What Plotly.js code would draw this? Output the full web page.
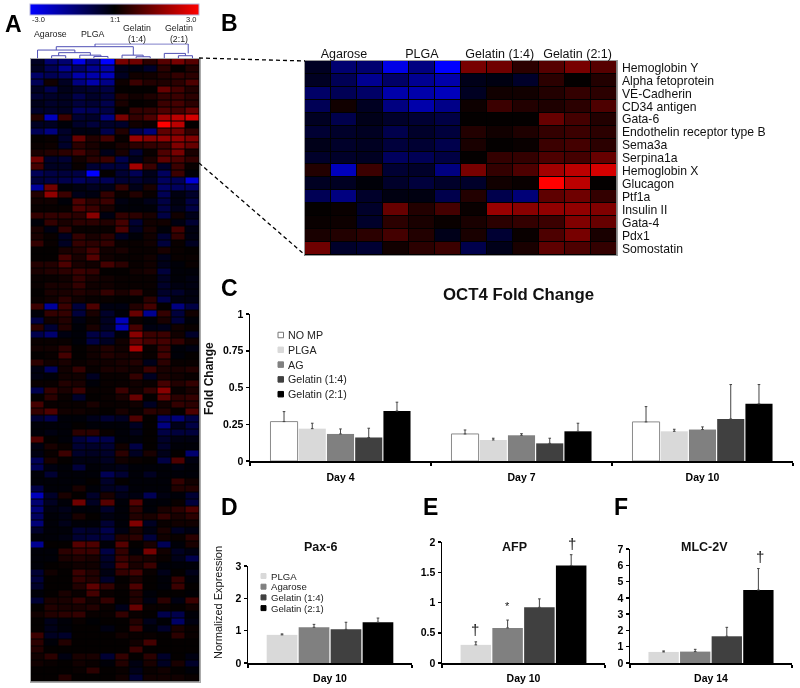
<!DOCTYPE html>
<html><head><meta charset="utf-8">
<script src="https://cdn.plot.ly/plotly-3.0.1.min.js"></script>
<style>html,body{margin:0;padding:0;background:#fff}#c{width:800px;height:688px}.main-svg{will-change:transform}</style>
</head><body><div id="c"></div>
<script>
var genes=['Hemoglobin Y','Alpha fetoprotein','VE-Cadherin','CD34 antigen','Gata-6','Endothelin receptor type B','Sema3a','Serpina1a','Hemoglobin X','Glucagon','Ptf1a','Insulin II','Gata-4','Pdx1','Somostatin'];
var groupsB=['Agarose','PLGA','Gelatin (1:4)','Gelatin (2:1)'];
var groupsA=['Agarose','PLGA','Gelatin<br>(1:4)','Gelatin<br>(2:1)'];
// zoomed region: shared by panels A and B
var heatB=[
[-.4,-1.3,-1.3,-2.7,-1.5,-3,1.4,1.3,.5,1,1.4,1],
[-.4,-1,-1.7,-1.2,-1.7,-2,-.3,-.2,-.5,.5,.05,.4],
[-1.2,-1,-1.2,-2,-2,-2.2,-.4,.2,.2,.4,.6,.5],
[-1,.2,-.4,-1.5,-2,-1.6,.15,.7,.4,.35,.5,.9],
[-.4,-.9,-.3,-.5,-.6,-.8,.05,.05,.05,1.2,.8,.4],
[-.6,-.5,-.4,-.9,-.5,-.7,.4,.2,.35,.6,.7,.5],
[-.3,-.5,-.4,-.7,-.6,-.9,.3,.05,.1,.7,.8,.5],
[-.5,-.5,-.4,-1.1,-1,-.8,.05,.6,.6,.9,.8,1.2],
[.4,-2.2,.7,-.6,-.5,-1.5,1.4,.6,.9,1.9,2.2,2.5],
[-.4,-.4,-.1,-.5,-.7,-.5,-.5,.2,.1,3,2.2,.05],
[-1,-1.5,-.5,-.2,-.2,-.9,.4,-.9,-1.4,1.1,1.3,.6],
[.05,.1,-.5,1.2,.4,.8,.1,1.8,1.6,1.7,1.7,1.5],
[.1,.15,-.5,.5,.3,.1,.3,.5,.6,.7,1.5,1.2],
[.3,.4,.5,.8,.4,-.3,.3,-.6,.1,.9,1.4,.3],
[1.3,-.5,-.6,.2,.5,.7,-.9,-.3,.3,1.1,.9,.6]];
// remaining rows of panel A
var heatRest=[
[.8,-.4,-.4,.1,-.6,-.7,-.7,1.9,.7,-.5,.7,.1],
[-1,-.8,-.7,-.8,-3,.05,-.6,-1,-.3,-1.1,.7,-.1],
[-.7,-.8,-.9,-1.1,-.9,-1,-.6,-.6,-.4,-1.1,-1,-2.5],
[-1.8,1.3,-.1,-.2,-.4,-.3,.6,-.3,.3,-1.2,-1.1,-1.2],
[.4,1.7,.7,-.3,-.2,.6,.1,.4,.1,-1,-.2,-.5],
[.2,.2,-.1,.9,.5,.7,-.2,-.1,-.3,-.8,-.2,-.8],
[.1,.1,.1,.9,.7,.3,-.1,-.1,-.1,-.8,-.3,-.8],
[.6,.6,.6,.5,1.6,-.2,.6,.5,.3,-.8,.2,-.3],
[-.1,.6,.3,.5,.5,.4,.8,-.6,.2,.2,-.2,-.6],
[.3,-.2,.6,.1,.1,.1,.9,-.4,.3,-.1,.8,-.2],
[.3,.1,-.4,.6,.3,.5,-.4,-.1,.2,-.6,.6,-.2],
[.6,.1,-.4,.6,.5,.6,.1,.1,.2,-.7,.1,-.4],
[.05,.05,.3,.4,.8,.2,.3,.1,.1,.3,.1,.05],
[.05,.05,.8,.3,1,.2,.1,.1,.2,-.3,.1,.1],
[.4,.4,.9,.3,.2,.8,.5,.1,.2,-.3,-.1,.1],
[.3,.4,.5,.7,.6,.05,.05,.2,.3,-.7,-.1,-.1],
[.1,.1,.2,.6,.3,.2,.1,.1,.1,-.4,-.1,-.2],
[.1,.3,.3,.6,.2,.2,.1,.1,.1,-.5,-.2,-.2],
[.05,.3,.3,.4,.3,.6,.3,.6,.1,-.5,-.5,-.2],
[.1,.2,.5,.2,.1,.1,.05,.05,.5,-.9,-.2,-.2],
[.7,-1.8,.7,-.7,.9,-.2,-.2,.4,.8,.05,-1.5,-.8],
[-.1,.6,.6,-.7,.3,-.5,-.1,1.2,-1.7,.6,-.7,.2],
[-.8,.2,.4,-.2,.1,-.4,-2.2,.1,-.1,.3,-.7,-.1],
[.5,-.6,.4,-.1,.3,-.4,-2.2,.8,-.2,-.3,.2,.1],
[-.9,-1.3,-.2,-.1,-.8,-.8,-.1,1.6,.7,.7,.2,-.5],
[.1,.1,.1,-.1,-.8,-.4,.2,1.1,.8,.8,.6,.2],
[.2,.2,.5,.05,.2,.4,.2,2,.1,.7,-.1,-.2],
[.05,.1,.8,.05,.2,.4,.3,.3,.1,.8,-.1,.05],
[.5,.2,.3,.1,.2,.2,.3,.4,-.3,.5,.1,.1],
[-.2,-1.1,.2,.6,.1,.3,.3,.2,.7,.3,.3,.4],
[-.2,-.1,.2,.2,-.4,.1,.1,.6,-.4,.3,.2,.1],
[.1,.1,.4,.3,-.1,.1,.1,.2,.1,.8,.4,.6],
[-.9,.6,.3,.7,.1,.1,.7,.2,.6,1.6,.1,.3],
[.05,.5,.1,-.5,.05,.1,.3,1.2,.05,1.1,.5,.6],
[.8,.1,.1,.1,.3,.1,.1,.2,-.4,.2,.6,.5],
[.6,.9,.2,.2,.1,.05,.3,.1,.5,.4,.05,.9],
[-.6,-.9,-.1,-.1,-.3,-.6,-.4,.9,.05,-1.2,-1.4,-.8],
[-.1,-.1,-.1,.05,-.1,-.1,-.1,-.4,.05,-1.5,-.3,-.8],
[-.1,-.2,-.1,.5,.5,.1,-.1,-.3,.05,-.8,-.7,-.7],
[.9,.05,-.1,-.7,-1,-.9,-.1,-.1,.05,-.5,-.2,-.2],
[-.2,.3,.1,-.6,-.5,-.6,.2,-.8,.05,-.5,-.1,-.1],
[-.2,.1,.7,-.5,-.4,-.5,.5,-.4,.3,-.3,.05,-1.3],
[-1,.3,.05,-.2,-.2,-.4,.2,.1,.05,-.8,.9,-.2],
[-1,-.2,-.1,-.7,-.1,-.2,-.3,-.1,-.1,-.1,-.2,-.1],
[-.1,-.6,-.1,-.1,-.1,-1,-.6,-.1,-.4,-.1,-.1,-.1],
[-.1,-.1,-.1,-.1,.05,-.5,.05,-.1,-.1,-.1,.6,.2],
[-.8,-.1,-.1,.3,-.1,-.4,-.5,-.1,-.1,-.1,.4,.4],
[-2.2,-.5,.3,.05,-.5,.3,-.3,-.2,-1,-.2,-.1,-.6],
[-1.3,-.4,-.1,1.3,-.4,1,-.1,1,-.1,-.1,.1,-.7],
[-1.4,-.2,-.3,-.1,-.1,-.5,-.1,.5,-.1,.3,.5,.9],
[-1.1,-.1,-.2,.3,.05,-.2,-.1,.4,.3,.6,.3,.5],
[-1.4,-.1,-.3,-.1,-.1,-.6,-.1,1.5,-.4,.1,.2,.2],
[-.5,-.1,-.1,-.6,-.5,-.9,-.2,.3,-.2,.3,-.4,-.2],
[-.1,-.1,-.2,-.6,-.7,-.7,.4,.5,-.7,.2,.1,.5],
[-1.7,.05,.05,1,.9,-.1,1,.05,.3,-1,-.1,.3],
[-.1,-.1,.5,.7,.7,-.8,.6,-.1,1.4,.2,-.4,-.2],
[-.1,-.1,.3,.4,.3,-.5,.7,.4,.3,.1,-.3,-.9],
[-.1,.05,.1,.2,.2,-.4,.9,.3,.7,-.1,-.1,-.1],
[-.6,.2,.05,.7,.4,-.2,.6,.8,.1,-.3,.05,-.3],
[-.7,.05,.05,.6,.4,-.5,.05,.3,.05,-.1,.6,-.1],
[-.5,.05,.05,.4,1.1,.6,.1,.9,.05,-.1,.7,.05],
[-.1,.05,.3,.1,.8,.1,.05,.4,-.1,.05,.05,-.05],
[-.6,.3,.3,.6,.2,.6,.05,.4,-.2,.5,-.2,.7],
[.05,.4,.3,.3,.4,.1,-.3,1.2,.1,.1,.05,.2],
[.2,.4,.5,.6,.1,.1,.6,.1,.05,-.9,-.9,-.1],
[.05,-.3,-.1,.1,-.05,.05,.05,.4,-.3,-.05,-1.2,-.2],
[.05,-.3,-.1,.05,.05,-.2,.05,.7,-.1,-.5,.3,.1],
[.7,-.4,-.5,.05,.05,.05,.2,.1,.1,.05,.5,.1],
[.5,-.1,.4,.05,.05,.05,.05,.2,.8,.05,.05,.05],
[.4,.05,.05,.05,.05,.05,.05,.7,.05,.05,.05,.05],
[.2,.5,-.2,.3,.3,-.6,.6,.05,.5,-.5,.05,-.2],
[.2,.1,.05,.2,.1,-.1,.4,-.2,.3,-.4,.3,-.5],
[.05,.05,.05,.1,.5,.05,.1,-.3,.1,.2,.05,-.1],
[.05,.05,.4,.05,.05,.05,.2,-.6,.2,.2,.2,.1]];
// dendrogram (sample column position, merge height)
var dendroX=[1,1,2,2,null,4,4,5,5,null,3,3,4.5,4.5,null,1.5,1.5,3.75,3.75,null,0,0,2.65,2.65,null,7,7,8,8,null,6,6,7.5,7.5,null,1.33,1.33,6.8,6.8,null,10,10,11,11,null,9,9,10.5,10.5,null,4.08,4.08,10.7,10.7];
var dendroH=[0,.19,.19,0,null,0,.14,.14,0,null,0,.23,.23,.14,null,.19,.4,.4,.23,null,0,.58,.58,.4,null,0,.12,.12,0,null,0,.23,.23,.12,null,.58,.81,.81,.23,null,0,.19,.19,0,null,0,.35,.35,.19,null,.81,1,1,.35];

var daysC=['Day 4','Day 7','Day 10'];
var namesC=['NO MP','PLGA','AG','Gelatin (1:4)','Gelatin (2:1)'];
var namesDEF=['PLGA','Agarose','Gelatin (1:4)','Gelatin (2:1)'];
var oct4=[[.268,.184,.266],[.22,.143,.202],[.184,.175,.214],[.16,.12,.286],[.34,.202,.389]];
var oct4Err=[[.068,.027,.104],[.037,.012,.014],[.034,.011,.018],[.063,.035,.234],[.06,.055,.131]];
var pax6=[.87,1.105,1.04,1.26], pax6Err=[.03,.09,.22,.13];
var afp=[.3,.58,.92,1.61], afpErr=[.05,.13,.14,.18];
var mlc=[.68,.7,1.64,4.48], mlcErr=[.06,.14,.55,1.32];
var fillC=['#ffffff','#d9d9d9','#808080','#404040','#000000'];
var fillDEF=['#d9d9d9','#808080','#404040','#000000'];

var W=800,H=688,FONT='Liberation Sans, Arial, sans-serif';
function fx(p){return p/W}
function fy(p){return 1-p/H}
function dx(a,b){return [fx(a),fx(b)]}
function dy(top,bottom){return [fy(bottom),fy(top)]}
var cols=[0,1,2,3,4,5,6,7,8,9,10,11];
var scale=[[0,'rgb(0,0,255)'],[.5,'rgb(0,0,0)'],[1,'rgb(255,0,0)']];
var data=[];
data.push({type:'heatmap',xaxis:'x',yaxis:'y',x:cols,z:heatB.concat(heatRest),zmin:-3,zmax:3,colorscale:scale,xgap:1,ygap:1,hoverongaps:false,
  colorbar:{orientation:'h',xref:'container',yref:'container',x:fx(30),y:fy(4),xanchor:'left',yanchor:'top',lenmode:'pixels',len:169,thicknessmode:'pixels',thickness:11,xpad:0,ypad:0,ticks:'',showticklabels:false,outlinewidth:1,outlinecolor:'#b4b4dc'}});
data.push({type:'scatter',mode:'lines',xaxis:'x2',yaxis:'y2',x:dendroX,y:dendroH,connectgaps:false,line:{color:'#4f4fb5',width:1},showlegend:false,hoverinfo:'skip'});
data.push({type:'heatmap',xaxis:'x3',yaxis:'y3',x:cols,y:genes,z:heatB,zmin:-3,zmax:3,colorscale:scale,xgap:1,ygap:1,showscale:false});

function barTrace(name,x,y,err,fill,ax,i){
  var white=fill==='#ffffff';
  return {type:'bar',name:name,x:x,y:y,xaxis:'x'+ax,yaxis:'y'+ax,showlegend:false,
    marker:{color:fill,line:{color:white?'#8a8a8a':fill,width:white?1:0}},
    error_y:{type:'data',symmetric:false,array:err,arrayminus:err.map(function(){return 0}),color:'#444',thickness:1,width:1.3}};
}
namesC.forEach(function(n,i){data.push(barTrace(n,daysC,oct4[i],oct4Err[i],fillC[i],4))});
[[pax6,pax6Err,5,'Day 10'],[afp,afpErr,6,'Day 10'],[mlc,mlcErr,7,'Day 14']].forEach(function(s){
  namesDEF.forEach(function(n,i){data.push(barTrace(n,[s[3]],[s[0][i]],[s[1][i]],fillDEF[i],s[2]))});
});

var tickB={family:FONT,size:10.5,color:'#000',weight:'bold'};
function xBar(a,b,anchor,off){return {domain:dx(a,b),anchor:anchor,type:'category',showline:true,linecolor:'#000',linewidth:2,ticks:'outside',ticklen:3,tickwidth:1.5,tickcolor:'#000',tickson:'boundaries',tickfont:tickB,showgrid:false,zeroline:false,ticklabelstandoff:off,fixedrange:true}}
function yBar(top,bot,rng,dt,anchor,vals,texts){return {domain:dy(top,bot),anchor:anchor,range:rng,tickvals:vals,ticktext:texts,showline:true,linecolor:'#000',linewidth:1.5,ticks:'outside',ticklen:3,tickwidth:1.5,tickcolor:'#000',tickfont:tickB,showgrid:false,zeroline:false,fixedrange:true}}

var annotations=[],shapes=[];
function ann(t,x,y,o){var a=Object.assign({text:t,x:fx(x),y:fy(y),xref:'paper',yref:'paper',showarrow:false,xanchor:'center',yanchor:'middle',align:'center',font:{family:FONT,size:11,color:'#000'}},o||{});annotations.push(a)}
[['A',13,24,23],['B',230,23,23],['C',230,288,23],['D',230,507,23],['E',431,507,23],['F',621,507,23]].forEach(function(p){ann(p[0],p[1],p[2],{font:{family:FONT,size:p[3],weight:'bold',color:'#000'}})});
ann('-3.0',30,19,{xanchor:'left',font:{family:FONT,size:7.5,color:'#222'}});
ann('1:1',115,19,{font:{family:FONT,size:7.5,color:'#222'}});
ann('3.0',198,19,{xanchor:'right',font:{family:FONT,size:7.5,color:'#222'}});
[50,93,137,179].forEach(function(x,i){ann(groupsA[i],x,34,{font:{family:FONT,size:8.8,color:'#222'}})});
ann('OCT4 Fold Change',518,294,{font:{family:FONT,size:16.8,weight:'bold',color:'#111'}});
ann('Fold Change',209,379,{textangle:-90,font:{family:FONT,size:12,weight:'bold',color:'#111'}});
ann('Normalized Expression',218,603,{textangle:-90,font:{family:FONT,size:11,color:'#111'}});
ann('Pax-6',320,547,{font:{family:FONT,size:12.5,weight:'bold',color:'#111'}});
ann('AFP',514,547,{font:{family:FONT,size:12.5,weight:'bold',color:'#111'}});
ann('MLC-2V',704,547,{font:{family:FONT,size:12.5,weight:'bold',color:'#111'}});
// significance marks on panels E and F
[['\u2020',-.3,.55,6,15],['*',-.1,.95,6,11],['\u2020',.3,1.97,6,15],['\u2020',.3,6.56,7,15]].forEach(function(m){
  annotations.push({text:m[0],x:m[1],y:m[2],xref:'x'+m[3],yref:'y'+m[3],showarrow:false,font:{family:FONT,size:m[4],color:'#111'}});
});
// hand-placed legends, tight row spacing as in the figure
function legend(names,fills,x,y0,step,size,sw){
  names.forEach(function(n,i){
    var y=y0+i*step;
    shapes.push({type:'rect',xref:'paper',yref:'paper',x0:fx(x),x1:fx(x+sw),y0:fy(y+sw/2),y1:fy(y-sw/2),fillcolor:fills[i],line:{color:fills[i]==='#ffffff'?'#777':fills[i],width:1}});
    ann(n,x+sw+2.5,y,{xanchor:'left',font:{family:FONT,size:size,color:'#222'}});
  });
}
legend(namesC,fillC,278,335,14.8,10.7,5.5);
legend(namesDEF,fillDEF,261,576,10.7,9.6,5);
// connector from panel A to panel B
shapes.push({type:'line',xref:'paper',yref:'paper',x0:fx(199),y0:fy(58),x1:fx(305),y1:fy(61),line:{color:'#000',width:1.3,dash:'4px,3px'}});
shapes.push({type:'line',xref:'paper',yref:'paper',x0:fx(199),y0:fy(163),x1:fx(305),y1:fy(255),line:{color:'#000',width:1.3,dash:'4px,3px'}});
// black ground under the heatmap cells
['x','x3'].forEach(function(a){shapes.push({type:'rect',layer:'below',xref:a+' domain',yref:a.replace('x','y')+' domain',x0:0,x1:1,y0:0,y1:1,fillcolor:'#000',line:{width:0}})});

var layout={width:W,height:H,margin:{l:0,r:0,t:0,b:0,pad:0,autoexpand:false},paper_bgcolor:'#fff',plot_bgcolor:'rgba(0,0,0,0)',showlegend:false,
  font:{family:FONT,color:'#000'},barmode:'group',bargap:.22,bargroupgap:.04,annotations:annotations,shapes:shapes,
  xaxis:{domain:dx(30.5,199.5),anchor:'y',range:[-.5,11.5],showticklabels:false,ticks:'',showgrid:false,zeroline:false,showline:true,mirror:true,linecolor:'#aaa',linewidth:1},
  yaxis:{domain:dy(58.5,681.5),anchor:'x',autorange:'reversed',showticklabels:false,ticks:'',showgrid:false,zeroline:false,showline:true,mirror:true,linecolor:'#aaa',linewidth:1},
  xaxis2:{domain:dx(30.5,199.5),anchor:'y2',range:[-.5,11.5],visible:false},
  yaxis2:{domain:dy(43.5,58.5),anchor:'x2',range:[0,1.03],visible:false},
  xaxis3:{domain:dx(305,616.5),anchor:'y3',range:[-.5,11.5],side:'top',tickvals:[1,4,7,10],ticktext:groupsB,ticks:'',tickfont:{family:FONT,size:12.5,color:'#111'},showgrid:false,zeroline:false,showline:true,mirror:true,linecolor:'#999',linewidth:1,ticklabelstandoff:-3},
  yaxis3:{domain:dy(61,255),anchor:'x3',side:'right',type:'category',autorange:'reversed',tickmode:'array',tickvals:genes,ticktext:genes,ticks:'',tickfont:{family:FONT,size:12.2,color:'#111'},showgrid:false,zeroline:false,showline:true,mirror:true,linecolor:'#999',linewidth:1,ticklabelstandoff:2},
  xaxis4:xBar(250,793,'y4',5),
  yaxis4:yBar(314,461,[0,1],0,'x4',[0,.25,.5,.75,1],['0','0.25','0.5','0.75','1']),
  xaxis5:xBar(248,412,'y5',4),
  yaxis5:yBar(566,663,[0,3],0,'x5',[0,1,2,3],['0','1','2','3']),
  xaxis6:xBar(442,605,'y6',4),
  yaxis6:yBar(542,663,[0,2],0,'x6',[0,.5,1,1.5,2],['0','0.5','1','1.5','2']),
  xaxis7:xBar(630,792,'y7',4),
  yaxis7:yBar(549,663,[0,7],0,'x7',[0,1,2,3,4,5,6,7],['0','1','2','3','4','5','6','7'])
};
Plotly.newPlot('c',data,layout,{displayModeBar:false,staticPlot:true});
</script></body></html>
